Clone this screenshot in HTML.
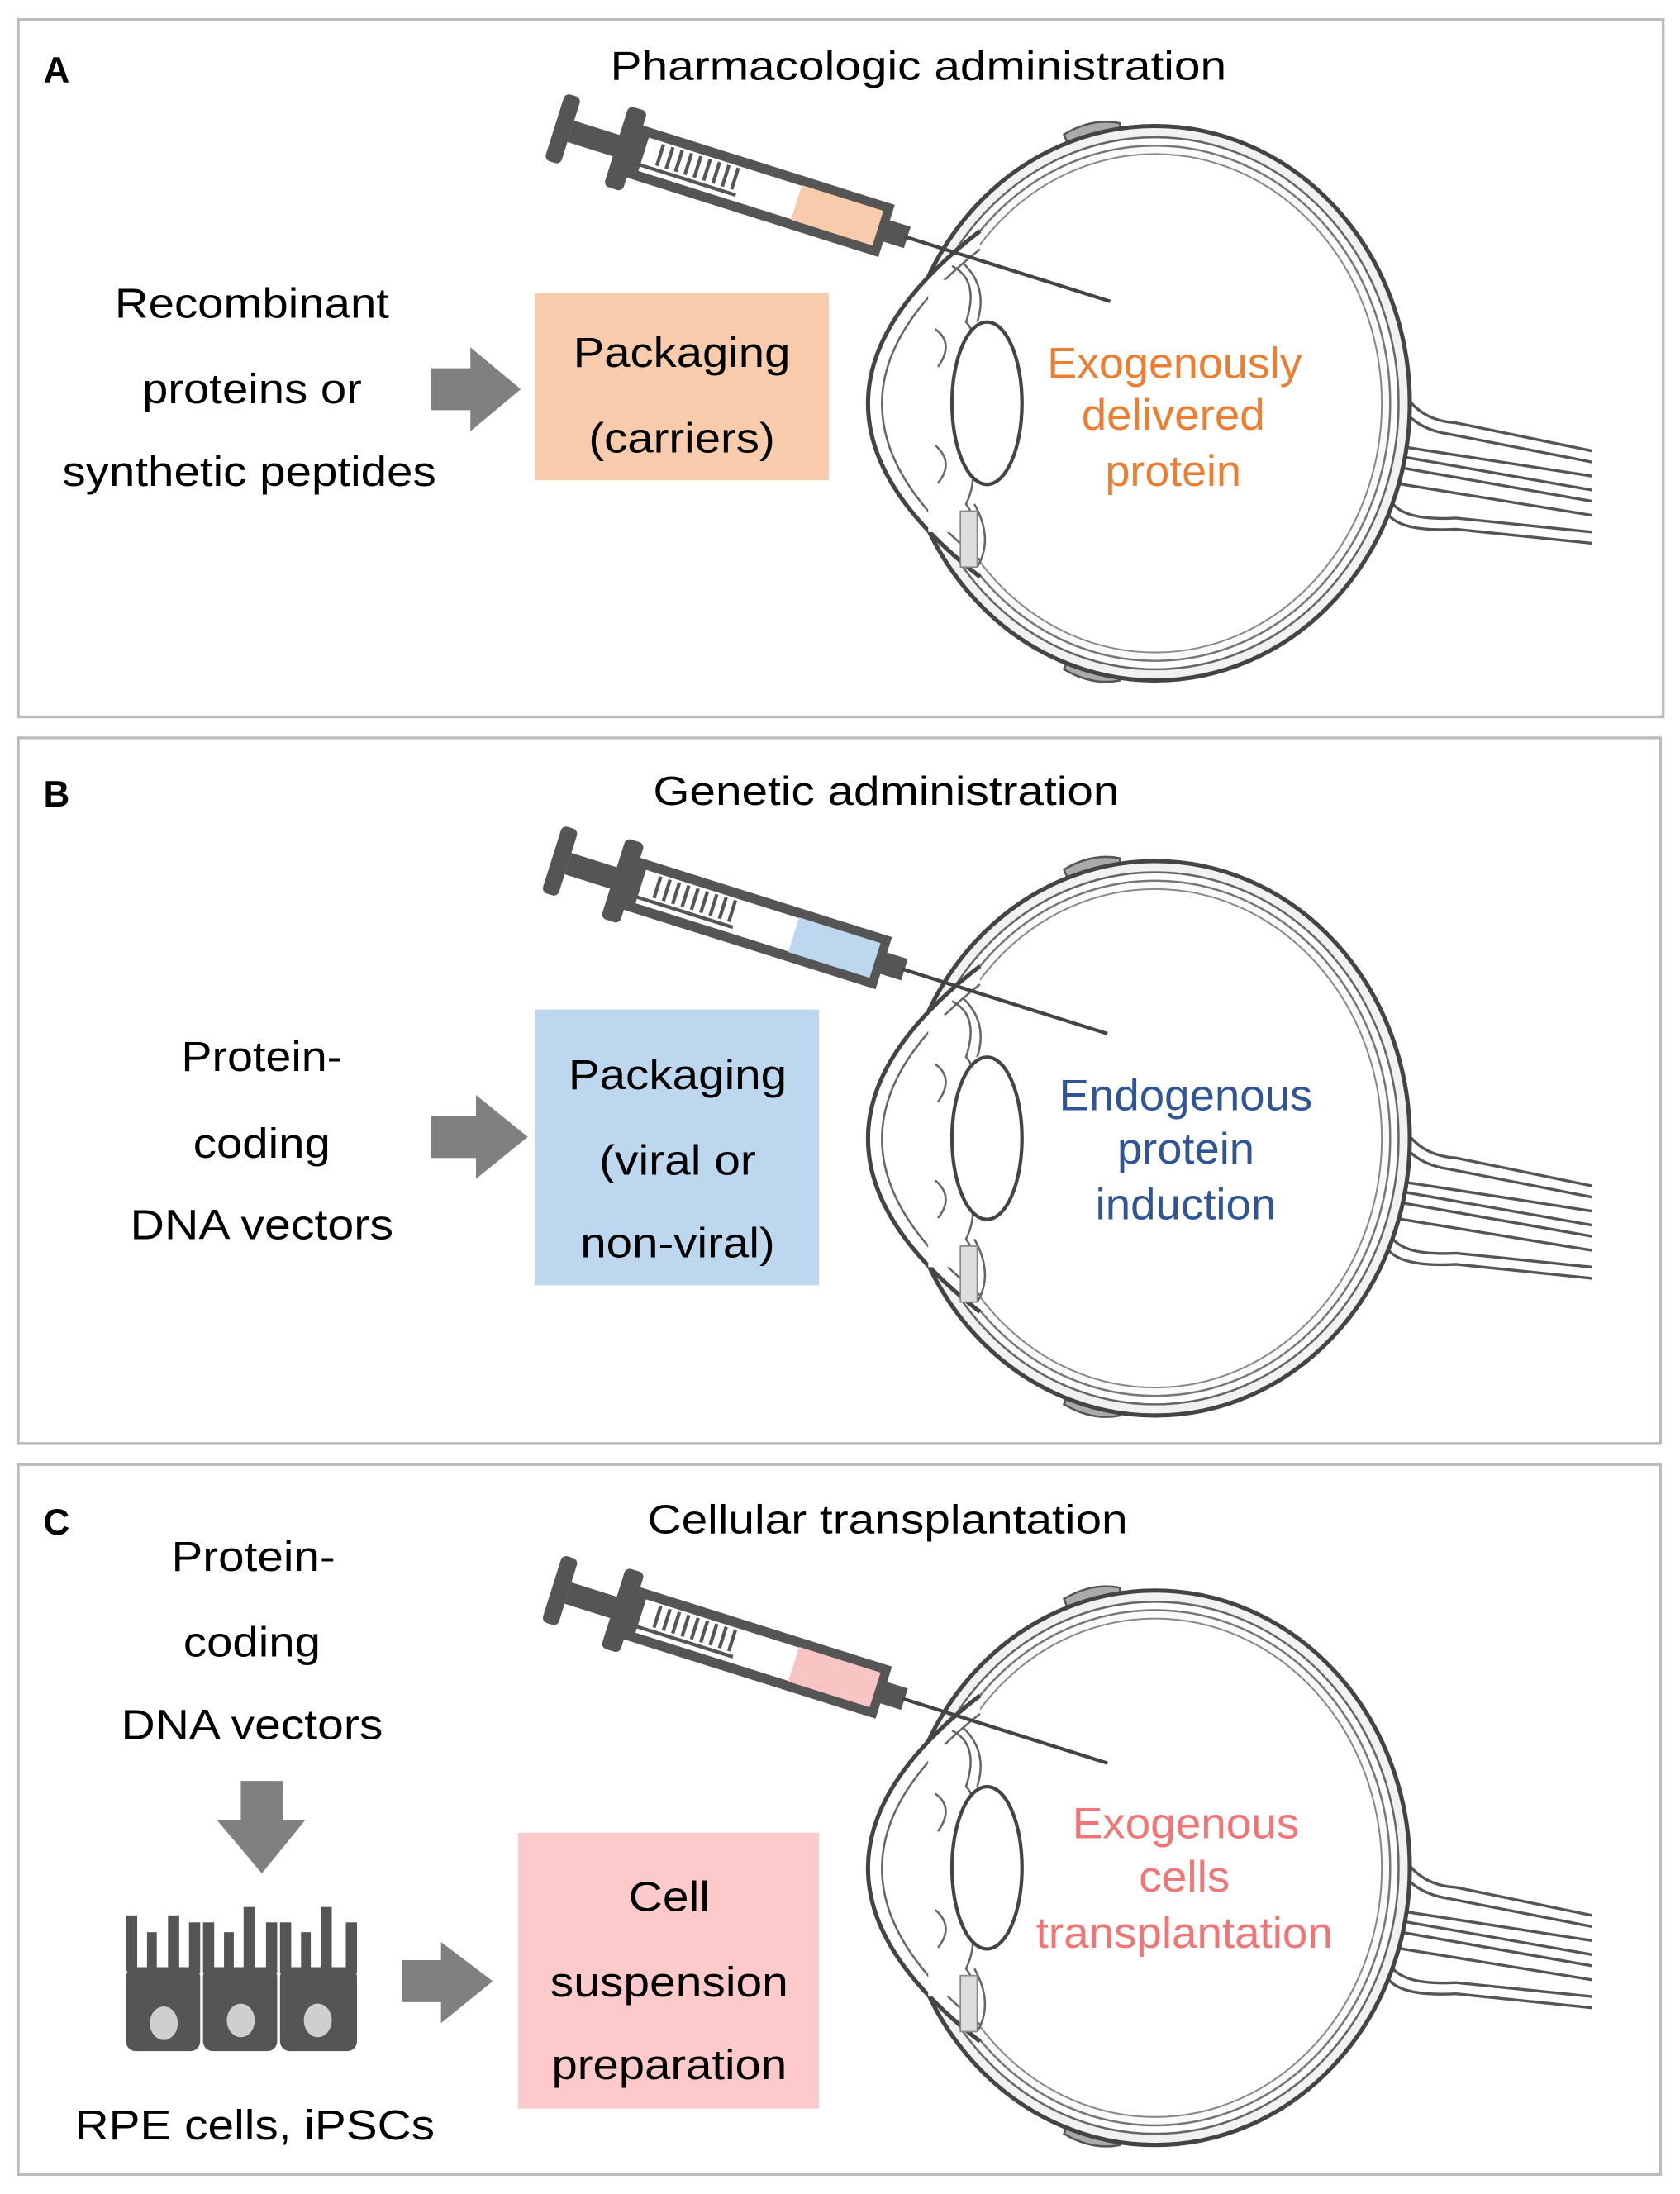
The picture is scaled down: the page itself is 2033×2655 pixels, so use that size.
<!DOCTYPE html>
<html><head><meta charset="utf-8"><style>
html,body{margin:0;padding:0;background:#fff}
svg{display:block}
text{font-family:"Liberation Sans",Arial,sans-serif;}
</style></head><body>
<svg width="2033" height="2655" viewBox="0 0 1200 1567" preserveAspectRatio="none" xmlns="http://www.w3.org/2000/svg">
<defs>
<g id="eye">
  <path d="M760,96 Q780,84 800,88 L800,102 Q780,98 764,106 Z" fill="#aaa" stroke="#555" stroke-width="1.5"/>
  <path d="M760,478 Q780,490 800,486 L800,472 Q780,476 764,468 Z" fill="#aaa" stroke="#555" stroke-width="1.5"/>
  <g fill="none" stroke="#555" stroke-width="2">
    <path d="M995,262 Q1005,300 1040,302 L1137,322"/>
    <path d="M992,270 Q1000,305 1035,310 L1137,330"/>
    <path d="M995,318 L1137,340"/>
    <path d="M995,325 L1137,350"/>
    <path d="M995,333 L1137,358"/>
    <path d="M996,345 L1137,368"/>
    <path d="M995,360 Q1005,372 1040,370 L1137,380"/>
    <path d="M992,368 Q1002,380 1040,378 L1137,388"/>
  </g>
  <ellipse cx="825" cy="288" rx="182" ry="198" fill="#f1f1f1" stroke="#444" stroke-width="3"/>
  <ellipse cx="825" cy="288" rx="174" ry="190" fill="#fff" stroke="#666" stroke-width="1.5"/>
  <ellipse cx="825" cy="288" rx="168" ry="184" fill="#fafafa" stroke="#777" stroke-width="1.5"/>
  <ellipse cx="825" cy="288" rx="162" ry="178" fill="#fff" stroke="#888" stroke-width="1.2"/>
  <path d="M700,165 Q540,288 700,412" fill="#fff" stroke="#444" stroke-width="3"/>
  <path d="M700,178 Q560,288 700,400" fill="none" stroke="#666" stroke-width="1.5"/>
  <path d="M672,200 L672,380" stroke="#fff" stroke-width="18"/>
  <g fill="none" stroke="#666" stroke-width="1.5">
    <path d="M680,190 Q700,200 690,230 Q700,240 690,262"/>
    <path d="M688,188 Q706,205 698,230"/>
    <path d="M690,316 Q700,340 690,360 Q705,380 690,405"/>
    <path d="M696,360 Q710,385 698,405"/>
    <path d="M668,235 Q682,245 670,262"/>
    <path d="M668,318 Q682,330 670,345"/>
  </g>
  <rect x="686" y="365" width="12" height="40" fill="#ddd" stroke="#888" stroke-width="1"/>
  <ellipse cx="705" cy="288" rx="25" ry="58" fill="#fff" stroke="#444" stroke-width="2.5"/>
</g>
<g id="syr">
  <rect x="-6" y="-25" width="12" height="50" rx="4" fill="#555"/>
  <rect x="6" y="-8" width="40" height="16" fill="#555"/>
  <rect x="40" y="-30" width="14" height="60" rx="4" fill="#555"/>
  <rect x="57" y="-16" width="182" height="32" fill="#fff" stroke="#555" stroke-width="7"/>
  <g stroke="#555" stroke-width="2.5">
    <line x1="72" y1="-11" x2="72" y2="5"/><line x1="79" y1="-11" x2="79" y2="5"/>
    <line x1="86" y1="-11" x2="86" y2="5"/><line x1="93" y1="-11" x2="93" y2="5"/>
    <line x1="100" y1="-11" x2="100" y2="5"/><line x1="107" y1="-11" x2="107" y2="5"/>
    <line x1="114" y1="-11" x2="114" y2="5"/><line x1="121" y1="-11" x2="121" y2="5"/>
    <line x1="128" y1="-11" x2="128" y2="5"/>
    <line x1="60" y1="8" x2="132" y2="8"/>
  </g>
  <rect x="242" y="-8" width="16" height="16" fill="#555"/>
  <line x1="256" y1="0" x2="410" y2="0" stroke="#444" stroke-width="2.5"/>
</g>
</defs>

<rect x="13" y="14" width="1175" height="498" fill="#fff" stroke="#bbb" stroke-width="2"/>
<rect x="13" y="527" width="1173" height="504" fill="#fff" stroke="#bbb" stroke-width="2"/>
<rect x="13" y="1046" width="1173" height="507" fill="#fff" stroke="#bbb" stroke-width="2"/>

<!-- A -->
<use href="#eye"/>
<g transform="translate(402,92) rotate(17.5)"><use href="#syr"/><rect x="175" y="-13" width="61" height="26" fill="#f7cbab"/></g>
<text x="31" y="59" font-size="26" font-weight="bold">A</text>
<text x="656" y="57" font-size="29" text-anchor="middle" textLength="440" lengthAdjust="spacingAndGlyphs">Pharmacologic administration</text>
<text x="180" y="227" font-size="30" text-anchor="middle" textLength="196" lengthAdjust="spacingAndGlyphs">Recombinant</text>
<text x="180" y="288" font-size="30" text-anchor="middle" textLength="157" lengthAdjust="spacingAndGlyphs">proteins or</text>
<text x="178" y="347" font-size="30" text-anchor="middle" textLength="267" lengthAdjust="spacingAndGlyphs">synthetic peptides</text>
<path d="M308,263 L336,263 L336,248 L372,278 L336,308 L336,293 L308,293 Z" fill="#808080"/>
<rect x="382" y="209" width="210" height="134" fill="#f7cbab"/>
<text x="487" y="262" font-size="30" text-anchor="middle" textLength="155" lengthAdjust="spacingAndGlyphs">Packaging</text>
<text x="487" y="323" font-size="30" text-anchor="middle" textLength="133" lengthAdjust="spacingAndGlyphs">(carriers)</text>
<g fill="#ed7d31" font-size="31" text-anchor="middle">
<text x="839" y="270" textLength="182" lengthAdjust="spacingAndGlyphs">Exogenously</text>
<text x="838" y="307" textLength="131" lengthAdjust="spacingAndGlyphs">delivered</text>
<text x="838" y="347" textLength="97" lengthAdjust="spacingAndGlyphs">protein</text>
</g>

<!-- B -->
<use href="#eye" transform="translate(0,525)"/>
<g transform="translate(400,615) rotate(17.5)"><use href="#syr"/><rect x="175" y="-13" width="61" height="26" fill="#bdd7ee"/></g>
<text x="31" y="576" font-size="26" font-weight="bold">B</text>
<text x="633" y="575" font-size="29" text-anchor="middle" textLength="333" lengthAdjust="spacingAndGlyphs">Genetic administration</text>
<text x="187" y="765" font-size="30" text-anchor="middle" textLength="115" lengthAdjust="spacingAndGlyphs">Protein-</text>
<text x="187" y="827" font-size="30" text-anchor="middle" textLength="98" lengthAdjust="spacingAndGlyphs">coding</text>
<text x="187" y="885" font-size="30" text-anchor="middle" textLength="188" lengthAdjust="spacingAndGlyphs">DNA vectors</text>
<path d="M308,797 L340,797 L340,782 L377,812 L340,842 L340,827 L308,827 Z" fill="#808080"/>
<rect x="382" y="721" width="203" height="197" fill="#bdd7ee"/>
<text x="484" y="778" font-size="30" text-anchor="middle" textLength="156" lengthAdjust="spacingAndGlyphs">Packaging</text>
<text x="484" y="839" font-size="30" text-anchor="middle" textLength="112" lengthAdjust="spacingAndGlyphs">(viral or</text>
<text x="484" y="898" font-size="30" text-anchor="middle" textLength="139" lengthAdjust="spacingAndGlyphs">non-viral)</text>
<g fill="#2f5597" font-size="31" text-anchor="middle">
<text x="847" y="793" textLength="181" lengthAdjust="spacingAndGlyphs">Endogenous</text>
<text x="847" y="831" textLength="98" lengthAdjust="spacingAndGlyphs">protein</text>
<text x="847" y="871" textLength="129" lengthAdjust="spacingAndGlyphs">induction</text>
</g>

<!-- C -->
<use href="#eye" transform="translate(0,1046)"/>
<g transform="translate(400,1136) rotate(17.5)"><use href="#syr"/><rect x="175" y="-13" width="61" height="26" fill="#f9c4c4"/></g>
<text x="31" y="1096" font-size="26" font-weight="bold">C</text>
<text x="634" y="1095" font-size="29" text-anchor="middle" textLength="343" lengthAdjust="spacingAndGlyphs">Cellular transplantation</text>
<text x="181" y="1122" font-size="30" text-anchor="middle" textLength="117" lengthAdjust="spacingAndGlyphs">Protein-</text>
<text x="180" y="1183" font-size="30" text-anchor="middle" textLength="98" lengthAdjust="spacingAndGlyphs">coding</text>
<text x="180" y="1242" font-size="30" text-anchor="middle" textLength="187" lengthAdjust="spacingAndGlyphs">DNA vectors</text>
<path d="M172,1272 L202,1272 L202,1300 L218,1300 L187,1338 L155,1300 L172,1300 Z" fill="#808080"/>
<g fill="#555">
  <rect x="90" y="1405" width="53" height="60" rx="7"/>
  <rect x="145" y="1405" width="53" height="60" rx="7"/>
  <rect x="200" y="1405" width="55" height="60" rx="7"/>
  <rect x="90" y="1368" width="8" height="40"/><rect x="105" y="1380" width="7" height="30"/><rect x="120" y="1368" width="8" height="40"/><rect x="135" y="1373" width="8" height="36"/>
  <rect x="145" y="1373" width="8" height="36"/><rect x="160" y="1380" width="7" height="30"/><rect x="174" y="1362" width="8" height="47"/><rect x="190" y="1373" width="8" height="36"/>
  <rect x="200" y="1373" width="8" height="36"/><rect x="215" y="1380" width="7" height="30"/><rect x="229" y="1362" width="8" height="47"/><rect x="247" y="1373" width="8" height="36"/>
</g>
<g fill="#cfcfcf">
  <ellipse cx="117" cy="1445" rx="10" ry="12"/>
  <ellipse cx="172" cy="1443" rx="10" ry="12"/>
  <ellipse cx="227" cy="1443" rx="10" ry="12"/>
</g>
<path d="M287,1400 L315,1400 L315,1387 L352,1415 L315,1445 L315,1430 L287,1430 Z" fill="#808080"/>
<rect x="370" y="1309" width="215" height="197" fill="#fccaca"/>
<text x="478" y="1365" font-size="30" text-anchor="middle" textLength="58" lengthAdjust="spacingAndGlyphs">Cell</text>
<text x="478" y="1426" font-size="30" text-anchor="middle" textLength="170" lengthAdjust="spacingAndGlyphs">suspension</text>
<text x="478" y="1485" font-size="30" text-anchor="middle" textLength="168" lengthAdjust="spacingAndGlyphs">preparation</text>
<g fill="#f07575" font-size="31" text-anchor="middle">
<text x="847" y="1313" textLength="162" lengthAdjust="spacingAndGlyphs">Exogenous</text>
<text x="846" y="1351" textLength="65" lengthAdjust="spacingAndGlyphs">cells</text>
<text x="846" y="1391" textLength="212" lengthAdjust="spacingAndGlyphs">transplantation</text>
</g>
<text x="182" y="1528" font-size="30" text-anchor="middle" textLength="257" lengthAdjust="spacingAndGlyphs">RPE cells, iPSCs</text>
</svg>
</body></html>
